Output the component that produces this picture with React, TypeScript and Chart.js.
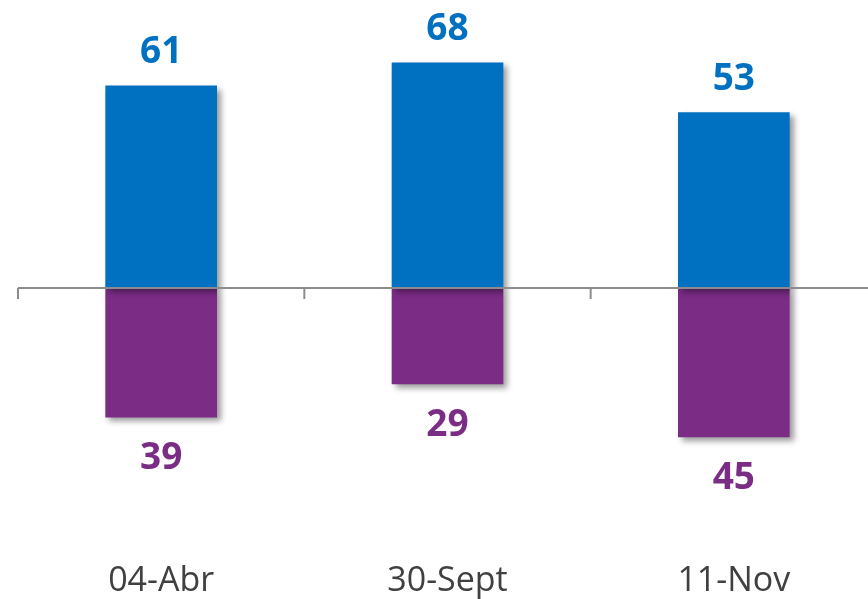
import { useEffect, useRef } from "react";
import { Chart, registerables, type ChartConfiguration, type Plugin } from "chart.js";

Chart.register(...registerables);

const fechas = ["04-Abr", "30-Sept", "11-Nov"];
const positivos = [61, 68, 53];
const negativos = [-39, -29, -45];

const AZUL = "#0070C0";
const MORADO = "#7B2C85";
const FONT = "'Open Sans', 'Noto Sans', sans-serif";

const sombra: Plugin<"bar"> = {
  id: "sombra",
  beforeDatasetsDraw(chart) {
    const ctx = chart.ctx;
    ctx.save();
    ctx.shadowColor = "rgba(0,0,0,0.4)";
    ctx.shadowBlur = 6;
    ctx.shadowOffsetX = 4;
    ctx.shadowOffsetY = 4;
  },
  afterDatasetsDraw(chart) {
    chart.ctx.restore();
  },
};

const ejeYEtiquetas: Plugin<"bar"> = {
  id: "ejeYEtiquetas",
  afterDatasetsDraw(chart) {
    const { ctx, chartArea } = chart;
    const x = chart.scales.x;
    const y = chart.scales.y;
    const y0 = y.getPixelForValue(0);

    ctx.save();
    ctx.strokeStyle = "#8c8c8c";
    ctx.lineWidth = 2;
    ctx.beginPath();
    ctx.moveTo(chartArea.left, y0);
    ctx.lineTo(chartArea.right, y0);
    for (let i = 0; i <= fechas.length; i++) {
      const xp = x.getPixelForValue(i - 0.5);
      ctx.moveTo(xp, y0);
      ctx.lineTo(xp, y0 + 11);
    }
    ctx.stroke();

    ctx.font = `bold 37px ${FONT}`;
    ctx.textAlign = "center";
    ctx.textBaseline = "middle";
    chart.data.datasets.forEach((ds, di) => {
      const meta = chart.getDatasetMeta(di);
      meta.data.forEach((bar, i) => {
        const v = ds.data[i] as number;
        const top = y.getPixelForValue(v);
        ctx.fillStyle = v >= 0 ? AZUL : MORADO;
        ctx.fillText(String(Math.abs(v)), bar.x, v >= 0 ? top - 33 : top + 41);
      });
    });
    ctx.restore();
  },
};

function BarrasApiladas() {
  const ref = useRef<HTMLCanvasElement | null>(null);
  const chartRef = useRef<Chart | null>(null);

  useEffect(() => {
    const el = ref.current;
    if (!el) return;
    chartRef.current?.destroy();

    const cfg: ChartConfiguration<"bar"> = {
      type: "bar",
      data: {
        labels: fechas,
        datasets: [
          { label: "positivo", data: positivos, backgroundColor: AZUL, stack: "s" },
          { label: "negativo", data: negativos, backgroundColor: MORADO, stack: "s" },
        ],
      },
      options: {
        responsive: false,
        animation: false,
        layout: { padding: { left: 18, right: 3, top: 0, bottom: 0 } },
        plugins: { legend: { display: false }, tooltip: { enabled: false } },
        datasets: { bar: { categoryPercentage: 1, barPercentage: 0.39 } },
        scales: {
          x: {
            stacked: true,
            grid: { display: false },
            border: { display: false },
            ticks: { color: "#404040", font: { family: FONT, size: 34 }, padding: 10 },
          },
          y: {
            stacked: true,
            display: false,
            min: -76.9,
            max: 86.8,
          },
        },
      },
      plugins: [sombra, ejeYEtiquetas],
    };

    chartRef.current = new Chart(el, cfg);
    return () => {
      chartRef.current?.destroy();
      chartRef.current = null;
    };
  }, []);

  return <canvas ref={ref} width={880} height={612} style={{ width: 880, height: 612, display: "block" }} />;
}

export default function App() {
  useEffect(() => {
    document.body.style.margin = "0";
    document.body.style.overflow = "hidden";
  }, []);
  return (
    <div style={{ position: "fixed", left: 0, top: 0, width: 880, height: 612, background: "#fff" }}>
      <BarrasApiladas />
    </div>
  );
}
